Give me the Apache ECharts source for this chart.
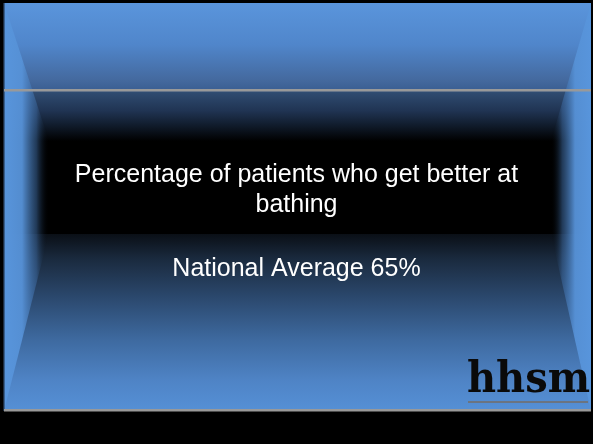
<!DOCTYPE html>
<html>
<head>
<meta charset="utf-8">
<script src="https://cdn.jsdelivr.net/npm/echarts@6/dist/echarts.min.js"></script>
<style>
html,body{margin:0;padding:0;background:#000;}
#main{width:593px;height:444px;}
</style>
</head>
<body>
<div id="main"></div>
<script>
// ---- content ----
const titleLines = ['Percentage of patients who get better at', 'bathing'];
const averageLabel = ['National Average'];
const averageValue = [65];
const logoText = ['hhsm'];

const chart = echarts.init(document.getElementById('main'), null, {renderer: 'canvas'});
const LG = echarts.graphic.LinearGradient;
const blueTop = '#5a95dc';
const blueBot = '#5590d6';

const ceiling = new LG(0, 0, 0, 1, [
  {offset: 0, color: blueTop},
  {offset: 0.30, color: '#5086cb'},
  {offset: 0.56, color: '#44699e'},
  {offset: 0.62, color: '#3c6094'},
  {offset: 0.65, color: '#2f4b70'},
  {offset: 0.78, color: '#203453'},
  {offset: 0.88, color: '#111d2e'},
  {offset: 1, color: '#000000'}
]);
const floor = new LG(0, 0, 0, 1, [
  {offset: 0, color: '#0a0f16'},
  {offset: 0.14, color: '#1a2a3e'},
  {offset: 0.37, color: '#2c4a70'},
  {offset: 0.60, color: '#3e6aa0'},
  {offset: 0.83, color: '#4f84c6'},
  {offset: 1, color: blueBot}
]);
function wall(x0, x1) {
  return new LG(x0, 0, x1, 0, [
    {offset: 0, color: 'rgba(88,149,220,1)'},
    {offset: 0.4, color: 'rgba(86,145,214,0.97)'},
    {offset: 0.72, color: 'rgba(60,105,160,0.55)'},
    {offset: 1, color: 'rgba(0,0,0,0)'}
  ]);
}

const option = {
  backgroundColor: '#000000',
  graphic: [
    {type: 'rect', shape: {x: 4, y: 3, width: 587, height: 408}, style: {fill: '#000'}},
    {type: 'rect', shape: {x: 4, y: 3, width: 587, height: 138}, style: {fill: ceiling}},
    {type: 'rect', shape: {x: 4, y: 234, width: 587, height: 177}, style: {fill: floor}},
    {type: 'polygon', shape: {points: [[4, 3], [49, 141], [49, 234], [4, 411]]}, style: {fill: wall(0, 1)}},
    {type: 'polygon', shape: {points: [[591, 3], [551, 141], [551, 234], [591, 411]]}, style: {fill: wall(1, 0)}},
    {type: 'rect', shape: {x: 3, y: 3, width: 1.5, height: 408}, style: {fill: '#1d2c40'}},
    {type: 'rect', shape: {x: 4, y: 89, width: 587, height: 2.5}, style: {fill: '#999999'}},
    {type: 'rect', shape: {x: 4, y: 409, width: 587, height: 2.5}, style: {fill: '#999999'}},
    {type: 'text', left: 'center', top: 160, z: 10,
      style: {text: titleLines.join('\n'), fill: '#ffffff', font: '25px "Liberation Sans", Arial, sans-serif', textAlign: 'center', lineHeight: 30}},
    {type: 'text', left: 'center', top: 257, z: 10,
      style: {text: averageLabel[0] + ' ' + averageValue[0] + '%', fill: '#ffffff', font: '25px "Liberation Sans", Arial, sans-serif', textAlign: 'center'}},
    {type: 'text', x: 467, y: 359, scaleX: 0.87, scaleY: 0.95, originX: 0, originY: 0, z: 10,
      style: {text: logoText[0], fill: '#0a0a0a', font: 'bold 46px "DejaVu Serif", serif',
        textShadowColor: 'rgba(210,220,235,0.75)', textShadowOffsetX: 1, textShadowOffsetY: 1, textShadowBlur: 0}},
    {type: 'rect', shape: {x: 468, y: 401, width: 120, height: 2}, z: 10, style: {fill: '#6b7480'}}
  ]
};
chart.setOption(option);
</script>
</body>
</html>
